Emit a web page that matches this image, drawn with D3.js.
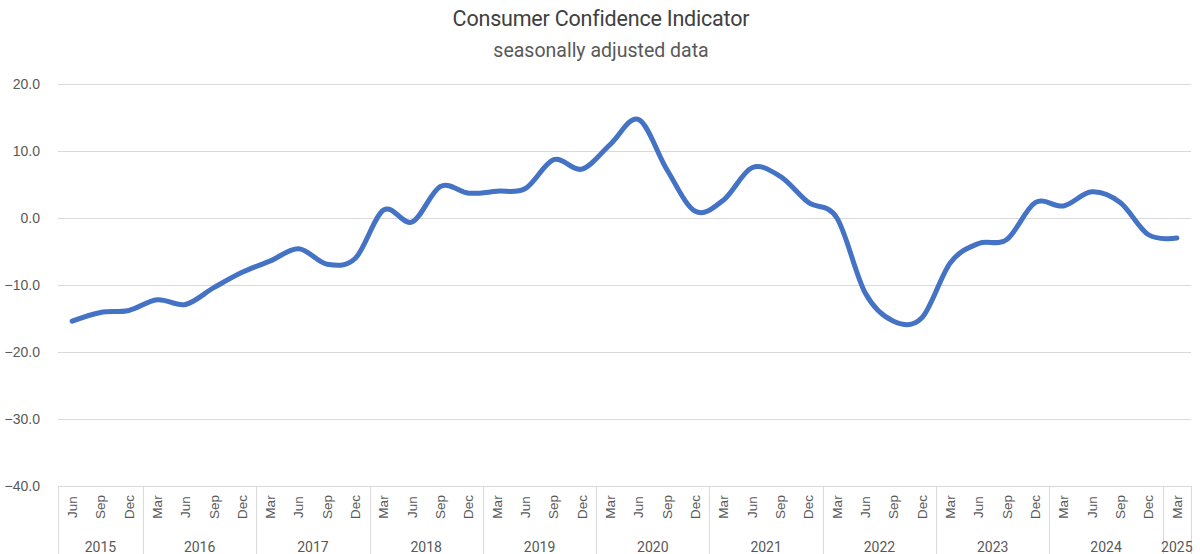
<!DOCTYPE html>
<html lang="en">

<head>
    <meta charset="UTF-8">
    <title>Consumer Confidence Indicator</title>
    <style>
        body {
            margin: 0;
            background: #fff;
            font-family: Roboto, sans-serif;
        }

        svg {
            display: block;
        }

        .grid line {
            stroke: #d9d9d9;
            stroke-width: 1;
        }

        .axis text {
            fill: #595959;
        }
    </style>
</head>

<body>
    <svg width="1200" height="554"></svg>

    <script src="https://d3js.org/d3.v7.min.js"></script>
    <script>
        // quarterly readings, Jun 2015 .. Mar 2025
        const months = [
            "Jun", "Sep", "Dec",
            "Mar", "Jun", "Sep", "Dec",
            "Mar", "Jun", "Sep", "Dec",
            "Mar", "Jun", "Sep", "Dec",
            "Mar", "Jun", "Sep", "Dec",
            "Mar", "Jun", "Sep", "Dec",
            "Mar", "Jun", "Sep", "Dec",
            "Mar", "Jun", "Sep", "Dec",
            "Mar", "Jun", "Sep", "Dec",
            "Mar", "Jun", "Sep", "Dec",
            "Mar"
        ];
        const years = [
            2015, 2015, 2015,
            2016, 2016, 2016, 2016,
            2017, 2017, 2017, 2017,
            2018, 2018, 2018, 2018,
            2019, 2019, 2019, 2019,
            2020, 2020, 2020, 2020,
            2021, 2021, 2021, 2021,
            2022, 2022, 2022, 2022,
            2023, 2023, 2023, 2023,
            2024, 2024, 2024, 2024,
            2025
        ];
        const values = [
            -15.4, -14.1, -13.8,
            -12.2, -12.9, -10.4, -8.1,
            -6.4, -4.6, -6.9, -6.0,
            1.2, -0.6, 4.7, 3.7,
            4.0, 4.4, 8.7, 7.3,
            11.0, 14.7, 7.2, 1.0,
            2.7, 7.5, 6.2, 2.3,
            0.0, -11.2, -15.4, -14.9,
            -6.7, -3.8, -3.2, 2.3,
            1.8, 3.9, 2.3, -2.5,
            -3.0
        ];
        const yTicks = [20, 10, 0, -10, -20, -30, -40];

        const svg = d3.select("svg");
        const margin = { left: 58, right: 9, top: 84, bottom: 68 };
        const width = 1200, height = 554;
        const plotBottom = height - margin.bottom;

        const keys = months.map((m, i) => years[i] + "-" + i);
        const data = keys.map((k, i) => ({ key: k, month: months[i], year: years[i], value: values[i] }));

        const x = d3.scaleBand()
            .domain(keys)
            .range([margin.left, width - margin.right]);

        const y = d3.scaleLinear()
            .domain([-40, 20])
            .range([plotBottom, margin.top]);

        // titles
        svg.append("text")
            .attr("x", 601).attr("y", 26)
            .attr("text-anchor", "middle")
            .attr("fill", "#404040")
            .style("font-size", "21.5px")
            .style("letter-spacing", "-0.2px")
            .text("Consumer Confidence Indicator");
        svg.append("text")
            .attr("x", 601).attr("y", 57)
            .attr("text-anchor", "middle")
            .attr("fill", "#595959")
            .style("font-size", "19.5px")
            .text("seasonally adjusted data");

        // horizontal gridlines
        svg.append("g")
            .attr("class", "grid")
            .selectAll("line")
            .data(yTicks)
            .join("line")
            .attr("x1", margin.left)
            .attr("x2", width - margin.right)
            .attr("y1", d => Math.round(y(d)) + 0.5)
            .attr("y2", d => Math.round(y(d)) + 0.5);

        // y axis labels
        const yAxis = d3.axisLeft(y)
            .tickValues(yTicks)
            .tickSize(0)
            .tickPadding(18)
            .tickFormat(d3.format(".1f"));
        svg.append("g")
            .attr("class", "axis")
            .attr("transform", `translate(${margin.left},0)`)
            .call(yAxis)
            .call(g => g.select(".domain").remove())
            .selectAll("text")
            .style("font-size", "14px");

        // month labels
        const xAxis = d3.axisBottom(x)
            .tickSize(0)
            .tickFormat((k, i) => months[i]);
        const gx = svg.append("g")
            .attr("class", "axis")
            .attr("transform", `translate(0,${plotBottom})`)
            .call(xAxis)
            .call(g => g.select(".domain").remove());
        gx.selectAll("text")
            .attr("transform", "rotate(-90)")
            .attr("x", -21)
            .attr("y", 0)
            .attr("dy", "0.35em")
            .attr("text-anchor", "middle")
            .style("font-size", "13.5px");

        // year groups
        const yearGroups = d3.groups(data, d => d.year).map(([yr, arr]) => ({
            year: yr,
            x0: x(arr[0].key),
            x1: x(arr[arr.length - 1].key) + x.bandwidth()
        }));
        const bounds = [margin.left].concat(yearGroups.map(g => g.x1));

        svg.append("g")
            .attr("class", "grid")
            .selectAll("line")
            .data(bounds)
            .join("line")
            .attr("x1", d => Math.round(d) + 0.5)
            .attr("x2", d => Math.round(d) + 0.5)
            .attr("y1", plotBottom)
            .attr("y2", height);

        svg.append("g")
            .attr("class", "axis")
            .selectAll("text")
            .data(yearGroups)
            .join("text")
            .attr("x", d => (d.x0 + d.x1) / 2)
            .attr("y", 552)
            .attr("text-anchor", "middle")
            .style("font-size", "14px")
            .text(d => d.year);

        // the line
        const line = d3.line()
            .x(d => x(d.key) + x.bandwidth() / 2)
            .y(d => y(d.value))
            .curve(d3.curveCardinal.tension(0));

        svg.append("path")
            .datum(data)
            .attr("fill", "none")
            .attr("stroke", "#4472c4")
            .attr("stroke-width", 5)
            .attr("stroke-linecap", "round")
            .attr("stroke-linejoin", "round")
            .attr("d", line);
    </script>
</body>

</html>
